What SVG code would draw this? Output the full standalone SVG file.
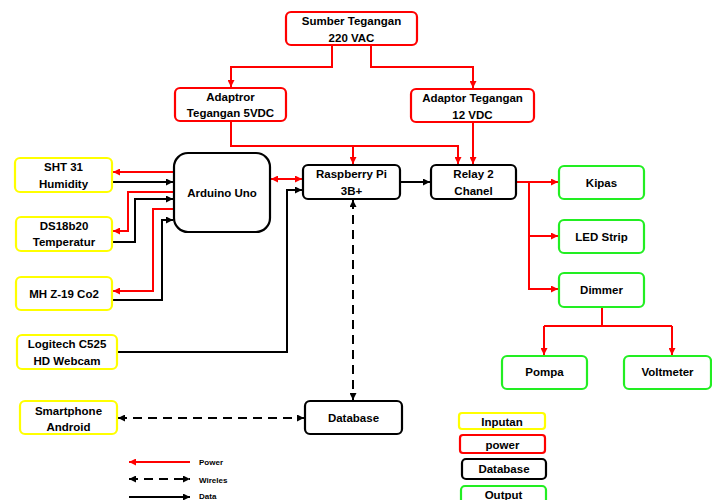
<svg xmlns="http://www.w3.org/2000/svg" width="712" height="500" viewBox="0 0 712 500">
<style>
.t{font-family:"Liberation Sans",Arial,sans-serif;font-weight:bold;font-size:11.5px;text-anchor:middle;fill:#000}
.lt{font-family:"Liberation Sans",Arial,sans-serif;font-weight:bold;font-size:8px;fill:#000}
.y{fill:#fff;stroke:#ffff00;stroke-width:2.2}
.r{fill:#fff;stroke:#ff0000;stroke-width:2.2}
.k{fill:#fff;stroke:#000;stroke-width:2.2}
.g{fill:#fff;stroke:#22ee22;stroke-width:2.2}
.pr{fill:none;stroke:#ff0000;stroke-width:2}
.pk{fill:none;stroke:#000;stroke-width:2}
.pd{fill:none;stroke:#000;stroke-width:2;stroke-dasharray:9 6}
</style>
<defs>
<marker id="ar" viewBox="0 0 10 10" refX="10" refY="5" markerWidth="8" markerHeight="7" markerUnits="userSpaceOnUse" orient="auto-start-reverse"><path d="M0,0 L10,5 L0,10z" fill="#ff0000"/></marker>
<marker id="ak" viewBox="0 0 10 10" refX="10" refY="5" markerWidth="8" markerHeight="7" markerUnits="userSpaceOnUse" orient="auto-start-reverse"><path d="M0,0 L10,5 L0,10z" fill="#000"/></marker>
</defs>
<g id="connectors">
<path class="pr" d="M332,45 V67 H231 V87" marker-end="url(#ar)"/>
<path class="pr" d="M371,45 V67 H473 V88" marker-end="url(#ar)"/>
<path class="pr" d="M231,122 V146 H458 V164" marker-end="url(#ar)"/>
<path class="pr" d="M353,146 V164" marker-end="url(#ar)"/>
<path class="pr" d="M473,122 V164" marker-end="url(#ar)"/>
<path class="pk" d="M400,182 H430" marker-end="url(#ak)"/>
<path class="pr" d="M516,182 H558" marker-end="url(#ar)"/>
<path class="pr" d="M529,182 V289 H558" marker-end="url(#ar)"/>
<path class="pr" d="M529,236 H558" marker-end="url(#ar)"/>
<path class="pr" d="M602,307 V326" />
<path class="pr" d="M544,326 H672"/>
<path class="pr" d="M544,326 V355" marker-end="url(#ar)"/>
<path class="pr" d="M672,326 V355" marker-end="url(#ar)"/>
<path class="pr" d="M174,172 H113" marker-end="url(#ar)"/>
<path class="pk" d="M112,182 H173" marker-end="url(#ak)"/>
<path class="pr" d="M174,192 H128 V231 H113" marker-end="url(#ar)"/>
<path class="pk" d="M112,242 H135 V199 H173" marker-end="url(#ak)"/>
<path class="pr" d="M174,209 H153 V291 H113" marker-end="url(#ar)"/>
<path class="pk" d="M112,300 H162 V220 H173" marker-end="url(#ak)"/>
<path class="pr" d="M271,179 H302" marker-start="url(#ar)" marker-end="url(#ar)"/>
<path class="pk" d="M117,352 H287 V190 H302" marker-end="url(#ak)"/>
<path class="pd" d="M353,200 V400" marker-start="url(#ak)" marker-end="url(#ak)"/>
<path class="pd" d="M118,418 H304" marker-start="url(#ak)" marker-end="url(#ak)"/>
</g>
<g id="legend-lines">
<path class="pr" d="M190,462 H129" marker-end="url(#ar)"/>
<text class="lt" x="199" y="465">Power</text>
<path class="pd" d="M129,479 H190" stroke-dasharray="8 6" marker-start="url(#ak)" marker-end="url(#ak)"/>
<text class="lt" x="199" y="483">Wireles</text>
<path class="pk" d="M129,497 H190" marker-end="url(#ak)"/>
<text class="lt" x="199" y="499">Data</text>
</g>
<g id="sumber"><rect class="r" x="286" y="12" width="131" height="33" rx="5"/><text class="t" x="351.5" y="25">Sumber Tegangan</text><text class="t" x="351.5" y="42">220 VAC</text></g>
<g id="adaptror"><rect class="r" x="175" y="88" width="111" height="33" rx="5"/><text class="t" x="230.5" y="101">Adaptror</text><text class="t" x="230.5" y="117">Tegangan 5VDC</text></g>
<g id="adaptor12"><rect class="r" x="411" y="89" width="123" height="33" rx="5"/><text class="t" x="472.5" y="102">Adaptor Tegangan</text><text class="t" x="472.5" y="119">12 VDC</text></g>
<g id="arduino"><rect class="k" x="174" y="153" width="96" height="79" rx="14"/><text class="t" x="222" y="197">Arduino Uno</text></g>
<g id="rpi"><rect class="k" x="303" y="165" width="97" height="34" rx="5"/><text class="t" x="351.5" y="178">Raspberry Pi</text><text class="t" x="351.5" y="195">3B+</text></g>
<g id="relay"><rect class="k" x="431" y="165" width="85" height="34" rx="5"/><text class="t" x="473.5" y="178">Relay 2</text><text class="t" x="473.5" y="195">Chanel</text></g>
<g id="kipas"><rect class="g" x="559" y="166" width="85" height="33" rx="5"/><text class="t" x="601.5" y="187">Kipas</text></g>
<g id="ledstrip"><rect class="g" x="559" y="220" width="85" height="33" rx="5"/><text class="t" x="601.5" y="241">LED Strip</text></g>
<g id="dimmer"><rect class="g" x="559" y="273" width="85" height="34" rx="5"/><text class="t" x="601.5" y="294">Dimmer</text></g>
<g id="pompa"><rect class="g" x="502" y="356" width="85" height="33" rx="5"/><text class="t" x="544.5" y="376">Pompa</text></g>
<g id="voltmeter"><rect class="g" x="624" y="356" width="87" height="33" rx="5"/><text class="t" x="667.5" y="376">Voltmeter</text></g>
<g id="sht31"><rect class="y" x="15" y="158" width="97" height="34" rx="5"/><text class="t" x="63.5" y="171">SHT 31</text><text class="t" x="63.5" y="188">Humidity</text></g>
<g id="ds18b20"><rect class="y" x="16" y="217" width="96" height="34" rx="5"/><text class="t" x="64" y="230">DS18b20</text><text class="t" x="64" y="246">Temperatur</text></g>
<g id="mhz19"><rect class="y" x="16" y="277" width="96" height="33" rx="5"/><text class="t" x="64" y="298">MH Z-19 Co2</text></g>
<g id="logitech"><rect class="y" x="17" y="335" width="100" height="34" rx="5"/><text class="t" x="67" y="348">Logitech C525</text><text class="t" x="67" y="365">HD Webcam</text></g>
<g id="smartphone"><rect class="y" x="20" y="401" width="97" height="33" rx="5"/><text class="t" x="68.5" y="415">Smartphone</text><text class="t" x="68.5" y="431">Android</text></g>
<g id="database"><rect class="k" x="305" y="401" width="97" height="33" rx="5"/><text class="t" x="353.5" y="422">Database</text></g>
<g id="legend-inputan"><rect class="y" x="459" y="413" width="86" height="16" rx="3"/><text class="t" x="502" y="425.5">Inputan</text></g>
<g id="legend-power"><rect class="r" x="460" y="435" width="85" height="18" rx="3"/><text class="t" x="502.5" y="448.5">power</text></g>
<g id="legend-database"><rect class="k" x="462" y="459" width="84" height="20" rx="4"/><text class="t" x="504" y="473">Database</text></g>
<g id="legend-output"><rect class="g" x="461" y="486" width="85" height="20" rx="4"/><text class="t" x="503.5" y="498.5">Output</text></g>
</svg>
